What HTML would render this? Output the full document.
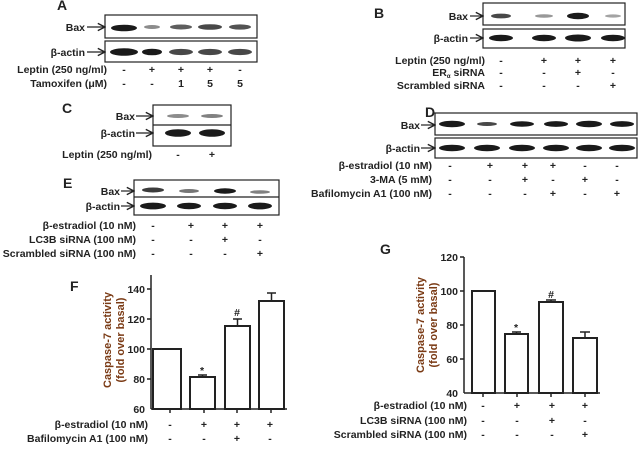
<!DOCTYPE html>
<html><head><meta charset="utf-8"><style>
html,body{margin:0;padding:0;background:#fff}
svg{display:block}
text{font-family:"Liberation Sans",Arial,sans-serif;font-weight:bold;font-size:10.5px;fill:#222}
.l{font-size:14px}
.r{text-anchor:end}
.m{text-anchor:middle}
.b{fill:#1a1a1a}
.y{fill:#7a3a14;font-size:11px}
</style></head><body>
<svg width="640" height="451" viewBox="0 0 640 451" xmlns="http://www.w3.org/2000/svg">
<defs><marker id="ar" markerWidth="8" markerHeight="8" refX="7" refY="4" orient="auto"><path d="M1,1 L7,4 L1,7" fill="none" stroke="#222" stroke-width="1.2"/></marker></defs>
<g stroke="#222" stroke-width="1.2" marker-end="url(#ar)">
<line x1="87" y1="27" x2="105" y2="27"/><line x1="87" y1="52" x2="105" y2="52"/>
<line x1="136" y1="116" x2="153" y2="116"/><line x1="136" y1="133" x2="153" y2="133"/>
<line x1="121" y1="191" x2="134" y2="191"/><line x1="121" y1="206" x2="134" y2="206"/>
<line x1="470" y1="16" x2="483" y2="16"/><line x1="470" y1="38" x2="483" y2="38"/>
<line x1="421" y1="125" x2="435" y2="125"/><line x1="421" y1="148" x2="435" y2="148"/>
</g>
<g fill="none" stroke="#222" stroke-width="1.2">
<rect x="105" y="15" width="152" height="23"/><rect x="105" y="41" width="152" height="21"/>
<rect x="153" y="105" width="78" height="41"/><line x1="153" y1="125" x2="231" y2="125"/>
<rect x="134" y="180" width="145" height="35"/><line x1="134" y1="197" x2="279" y2="197"/>
<rect x="483" y="3" width="142" height="22"/><rect x="483" y="29" width="142" height="19"/>
<rect x="435" y="113" width="202" height="22"/><rect x="435" y="138" width="202" height="20"/>
</g>
<g class="b">
<ellipse cx="124" cy="28" rx="13" ry="3.3"/><ellipse cx="152" cy="27" rx="8" ry="2" opacity=".5"/><ellipse cx="181" cy="27" rx="11" ry="2.5" opacity=".7"/><ellipse cx="210" cy="27" rx="12" ry="2.8" opacity=".8"/><ellipse cx="240" cy="27" rx="11" ry="2.6" opacity=".75"/>
<ellipse cx="124" cy="52" rx="14" ry="3.8"/><ellipse cx="152" cy="52" rx="10" ry="3.3"/><ellipse cx="181" cy="52" rx="12" ry="3.1" opacity=".8"/><ellipse cx="210" cy="52" rx="12" ry="3.1" opacity=".8"/><ellipse cx="240" cy="52" rx="12" ry="3.1" opacity=".8"/>
<ellipse cx="178" cy="116" rx="11" ry="2" opacity=".5"/><ellipse cx="212" cy="116" rx="11" ry="2" opacity=".55"/>
<ellipse cx="178" cy="133" rx="13" ry="3.8"/><ellipse cx="212" cy="133" rx="13" ry="3.8"/>
<ellipse cx="153" cy="190" rx="11" ry="2.5" opacity=".85"/><ellipse cx="189" cy="191" rx="10" ry="2" opacity=".6"/><ellipse cx="225" cy="191" rx="11" ry="2.7"/><ellipse cx="260" cy="192" rx="10" ry="1.8" opacity=".55"/>
<ellipse cx="153" cy="206" rx="13" ry="3.4"/><ellipse cx="189" cy="206" rx="12" ry="3.2"/><ellipse cx="225" cy="206" rx="12" ry="3.2"/><ellipse cx="260" cy="206" rx="12" ry="3.4"/>
<ellipse cx="501" cy="16" rx="10" ry="2.4" opacity=".8"/><ellipse cx="544" cy="16" rx="9" ry="1.7" opacity=".45"/><ellipse cx="578" cy="16" rx="11" ry="3.2"/><ellipse cx="613" cy="16" rx="8" ry="1.6" opacity=".4"/>
<ellipse cx="501" cy="38" rx="12" ry="3.2"/><ellipse cx="544" cy="38" rx="12" ry="3.2"/><ellipse cx="578" cy="38" rx="13" ry="3.5"/><ellipse cx="613" cy="38" rx="12" ry="3.2"/>
<ellipse cx="452" cy="124" rx="13" ry="3.2"/><ellipse cx="487" cy="124" rx="10" ry="2" opacity=".8"/><ellipse cx="522" cy="124" rx="12" ry="2.7"/><ellipse cx="556" cy="124" rx="12" ry="2.9"/><ellipse cx="589" cy="124" rx="13" ry="3.2"/><ellipse cx="622" cy="124" rx="12" ry="2.9"/>
<ellipse cx="452" cy="148" rx="13" ry="3.2"/><ellipse cx="487" cy="148" rx="13" ry="3.2"/><ellipse cx="522" cy="148" rx="13" ry="3.2"/><ellipse cx="556" cy="148" rx="13" ry="3.2"/><ellipse cx="589" cy="148" rx="13" ry="3.2"/><ellipse cx="622" cy="148" rx="13" ry="3.2"/>
</g>
<text class="l" x="57" y="10">A</text>
<text class="r" x="85" y="31">Bax</text><text class="r" x="85" y="56">β-actin</text>
<text class="r" x="107" y="73">Leptin (250 ng/ml)</text><text class="r" x="107" y="87">Tamoxifen (μM)</text>
<g class="m"><text x="124" y="73">-</text><text x="152" y="73">+</text><text x="181" y="73">+</text><text x="210" y="73">+</text><text x="240" y="73">-</text>
<text x="124" y="87">-</text><text x="152" y="87">-</text><text x="181" y="87">1</text><text x="210" y="87">5</text><text x="240" y="87">5</text></g>
<text class="l" x="62" y="113">C</text>
<text class="r" x="135" y="120">Bax</text><text class="r" x="135" y="137">β-actin</text>
<text class="r" x="152" y="158">Leptin (250 ng/ml)</text>
<g class="m"><text x="178" y="158">-</text><text x="212" y="158">+</text></g>
<text class="l" x="63" y="188">E</text>
<text class="r" x="120" y="195">Bax</text><text class="r" x="120" y="210">β-actin</text>
<text class="r" x="136" y="229">β-estradiol (10 nM)</text><text class="r" x="136" y="243">LC3B siRNA (100 nM)</text><text class="r" x="136" y="257">Scrambled siRNA (100 nM)</text>
<g class="m"><text x="153" y="229">-</text><text x="191" y="229">+</text><text x="225" y="229">+</text><text x="260" y="229">+</text>
<text x="153" y="243">-</text><text x="191" y="243">-</text><text x="225" y="243">+</text><text x="260" y="243">-</text>
<text x="153" y="257">-</text><text x="191" y="257">-</text><text x="225" y="257">-</text><text x="260" y="257">+</text></g>
<text class="l" x="374" y="18">B</text>
<text class="r" x="468" y="20">Bax</text><text class="r" x="468" y="42">β-actin</text>
<text class="r" x="485" y="64">Leptin (250 ng/ml)</text><text class="r" x="485" y="76">ER<tspan font-size="6" dy="2">α</tspan><tspan dy="-2"> siRNA</tspan></text><text class="r" x="485" y="89">Scrambled siRNA</text>
<g class="m"><text x="501" y="64">-</text><text x="544" y="64">+</text><text x="578" y="64">+</text><text x="613" y="64">+</text>
<text x="501" y="76">-</text><text x="544" y="76">-</text><text x="578" y="76">+</text><text x="613" y="76">-</text>
<text x="501" y="89">-</text><text x="544" y="89">-</text><text x="578" y="89">-</text><text x="613" y="89">+</text></g>
<text class="l" x="425" y="117">D</text>
<text class="r" x="420" y="129">Bax</text><text class="r" x="420" y="152">β-actin</text>
<text class="r" x="432" y="169">β-estradiol (10 nM)</text><text class="r" x="432" y="183">3-MA (5 mM)</text><text class="r" x="432" y="197">Bafilomycin A1 (100 nM)</text>
<g class="m"><text x="450" y="169">-</text><text x="490" y="169">+</text><text x="525" y="169">+</text><text x="553" y="169">+</text><text x="585" y="169">-</text><text x="617" y="169">-</text>
<text x="450" y="183">-</text><text x="490" y="183">-</text><text x="525" y="183">+</text><text x="553" y="183">-</text><text x="585" y="183">+</text><text x="617" y="183">-</text>
<text x="450" y="197">-</text><text x="490" y="197">-</text><text x="525" y="197">-</text><text x="553" y="197">+</text><text x="585" y="197">-</text><text x="617" y="197">+</text></g>
<!-- F -->
<text class="l" x="70" y="291">F</text>
<g fill="none" stroke="#222" stroke-width="1.5">
<line x1="151" y1="275" x2="151" y2="409"/><line x1="151" y1="409" x2="287" y2="409"/>
<line x1="147" y1="289" x2="151" y2="289"/><line x1="147" y1="319" x2="151" y2="319"/><line x1="147" y1="349" x2="151" y2="349"/><line x1="147" y1="379" x2="151" y2="379"/>
<line x1="170" y1="409" x2="170" y2="413"/><line x1="204" y1="409" x2="204" y2="413"/><line x1="237" y1="409" x2="237" y2="413"/><line x1="271" y1="409" x2="271" y2="413"/>
<rect x="153" y="349" width="28" height="60" stroke-width="2"/><rect x="190" y="377" width="25" height="32" stroke-width="2"/><rect x="225" y="326" width="25" height="83" stroke-width="2"/><rect x="259" y="301" width="25" height="108" stroke-width="2"/>
<path d="M202.5 377V375M198 375H207M237.5 326V319M233 319H242M271.5 301V293M267 293H276"/>
</g>
<g class="r"><text x="145" y="293">140</text><text x="145" y="323">120</text><text x="145" y="353">100</text><text x="145" y="383">80</text><text x="145" y="413">60</text></g>
<text class="m" x="202" y="374" font-size="9">*</text><text class="m" x="237" y="316">#</text>
<text class="y m" transform="translate(111,340) rotate(-90)">Caspase-7 activity</text>
<text class="y m" transform="translate(124,340) rotate(-90)">(fold over basal)</text>
<text class="r" x="148" y="428">β-estradiol (10 nM)</text><text class="r" x="148" y="442">Bafilomycin  A1 (100 nM)</text>
<g class="m"><text x="170" y="428">-</text><text x="204" y="428">+</text><text x="237" y="428">+</text><text x="270" y="428">+</text>
<text x="170" y="442">-</text><text x="204" y="442">-</text><text x="237" y="442">+</text><text x="270" y="442">-</text></g>
<!-- G -->
<text class="l" x="380" y="254">G</text>
<g fill="none" stroke="#222" stroke-width="1.5">
<line x1="464" y1="257" x2="464" y2="393"/><line x1="464" y1="393" x2="600" y2="393"/>
<line x1="460" y1="257" x2="464" y2="257"/><line x1="460" y1="291" x2="464" y2="291"/><line x1="460" y1="325" x2="464" y2="325"/><line x1="460" y1="359" x2="464" y2="359"/>
<line x1="483" y1="393" x2="483" y2="397"/><line x1="517" y1="393" x2="517" y2="397"/><line x1="551" y1="393" x2="551" y2="397"/><line x1="585" y1="393" x2="585" y2="397"/>
<rect x="472" y="291" width="23" height="102" stroke-width="2"/><rect x="505" y="334" width="23" height="59" stroke-width="2"/><rect x="539" y="302" width="24" height="91" stroke-width="2"/><rect x="573" y="338" width="24" height="55" stroke-width="2"/>
<path d="M516.5 334V332M512 332H521M551 302V300M546 300H556M585 338V332M580 332H590"/>
</g>
<g class="r"><text x="458" y="261">120</text><text x="458" y="295">100</text><text x="458" y="329">80</text><text x="458" y="363">60</text><text x="458" y="397">40</text></g>
<text class="m" x="516" y="331" font-size="9">*</text><text class="m" x="551" y="298">#</text>
<text class="y m" transform="translate(424,325) rotate(-90)">Caspase-7 activity</text>
<text class="y m" transform="translate(437,325) rotate(-90)">(fold over basal)</text>
<text class="r" x="467" y="409">β-estradiol (10 nM)</text><text class="r" x="467" y="424">LC3B siRNA (100 nM)</text><text class="r" x="467" y="438">Scrambled siRNA (100 nM)</text>
<g class="m"><text x="483" y="409">-</text><text x="517" y="409">+</text><text x="552" y="409">+</text><text x="585" y="409">+</text>
<text x="483" y="424">-</text><text x="517" y="424">-</text><text x="552" y="424">+</text><text x="585" y="424">-</text>
<text x="483" y="438">-</text><text x="517" y="438">-</text><text x="552" y="438">-</text><text x="585" y="438">+</text></g>
</svg>
</body></html>
